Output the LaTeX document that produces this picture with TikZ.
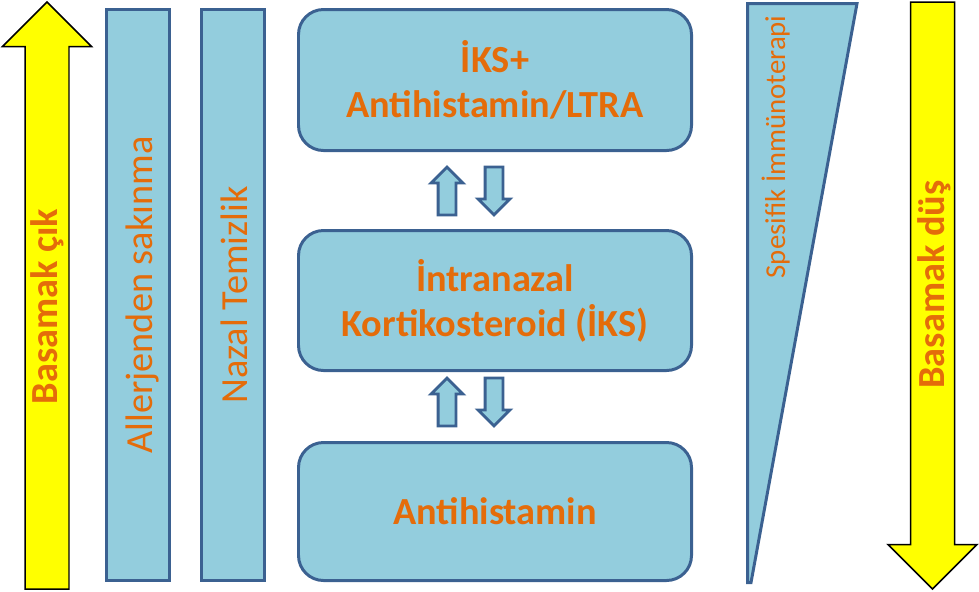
\documentclass[tikz,border=0pt]{standalone}
\usepackage{fontspec}
\setmainfont{Carlito}
\usepackage{tikz}
\usetikzlibrary{shapes.arrows, positioning, calc}
\definecolor{levelfill}{HTML}{93CDDD}
\definecolor{levelline}{HTML}{3B6191}
\definecolor{labelorange}{HTML}{E46C0A}
\definecolor{stepyellow}{HTML}{FFFF00}

\begin{document}
\begin{tikzpicture}[
    every node/.style={text=labelorange},
    levelbox/.style={draw=levelline, fill=levelfill, line width=1.7pt,
        rounded corners=0.5cm, minimum width=7.86cm, align=center,
        font=\bfseries\fontsize{21.8}{25.5}\selectfont},
    sidebar/.style={draw=levelline, fill=levelfill, line width=1.7pt,
        rotate=90, minimum width=11.42cm, minimum height=1.26cm, inner sep=0pt,
        text height=0.58cm, text depth=0pt, font=\fontsize{21.8}{26}\selectfont},
    stepbar/.style={single arrow, draw=black, fill=stepyellow, line width=0.85pt,
        rotate=90, minimum height=11.74cm, single arrow head extend=0.45cm,
        inner xsep=0pt, inner ysep=0pt, font=\bfseries\fontsize{21.8}{26}\selectfont},
    switcharrow/.style={single arrow, draw=levelline, fill=levelfill, line width=1.6pt,
        minimum height=0.96cm, single arrow head extend=0.14cm, inner sep=0pt,
        text height=0.3cm, text depth=0pt}
]
\useasboundingbox (0,0) rectangle (19.58,-11.82);

\node[stepbar, text height=0.625cm, text depth=0.225cm] (stepup) at (0.94,-6.13) {Basamak çık};
\node[sidebar] (avoid) at (2.76,-5.9) {Allerjenden sakınma};
\node[sidebar] (rinse) at (4.66,-5.9) {Nazal Temizlik};

\node[levelbox, minimum height=2.82cm] (combo) at (9.9,-1.6) {İKS+\\Antihistamin/LTRA};
\node[levelbox, minimum height=2.80cm] (steroid) at (9.9,-6.01) {İntranazal\\Kortikosteroid (İKS)};
\node[levelbox, minimum height=2.76cm] (antihist) at (9.9,-10.23) {Antihistamin};

\node[switcharrow, rotate=90] (upone) at (8.94,-3.91) {};
\node[switcharrow, rotate=-90] (downone) at (9.88,-3.73) {};
\node[switcharrow, rotate=90] (uptwo) at (8.94,-8.13) {};
\node[switcharrow, rotate=-90] (downtwo) at (9.88,-7.95) {};

% immunotherapy wedge
\draw[draw=levelline, fill=levelfill, line width=1.7pt]
    (14.95,-0.07) -- (17.14,-0.07) -- (15.02,-11.65) -- (14.95,-11.65) -- cycle;
\node[rotate=90, anchor=base east, inner sep=0pt, font=\fontsize{16.4}{19}\selectfont]
    (immuno) at (15.7,-0.30) {Spesifik İmmünoterapi};

\node[stepbar, shape border rotate=180, text height=0.665cm, text depth=0.185cm]
    (stepdown) at (18.65,-5.69) {Basamak düş};
\end{tikzpicture}
\end{document}
